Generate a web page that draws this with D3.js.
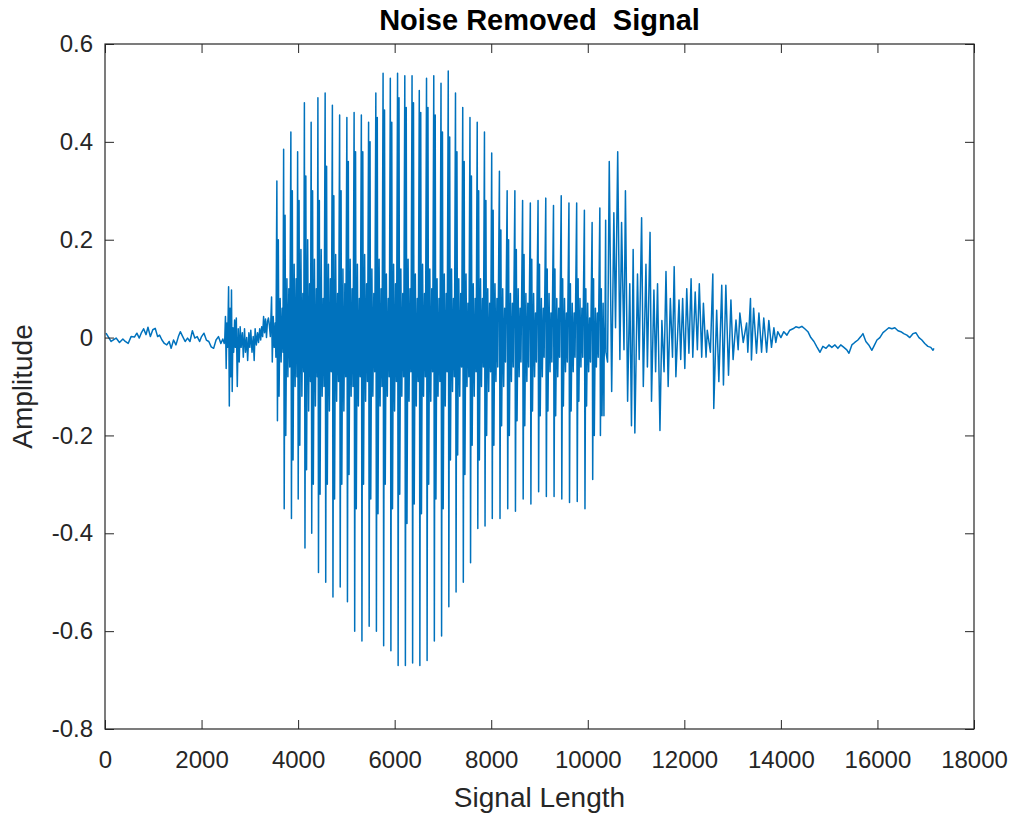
<!DOCTYPE html>
<html>
<head>
<meta charset="utf-8">
<script src="https://cdn.jsdelivr.net/npm/d3@7/dist/d3.min.js"></script>
<style>
  body { margin: 0; background: #fff; }
  text { font-family: "Liberation Sans", Arial, Helvetica, sans-serif; fill: #262626; }
</style>
</head>
<body>
<div id="chart"></div>
<script>
// tick values and labels
var xTicks = [0, 2000, 4000, 6000, 8000, 10000, 12000, 14000, 16000, 18000];
var yTicks = [0.6, 0.4, 0.2, 0, -0.2, -0.4, -0.6, -0.8];
var yTickLabels = ["0.6", "0.4", "0.2", "0", "-0.2", "-0.4", "-0.6", "-0.8"];

// quiet lead-in and the small burst before voicing (sample, amplitude)
var leadAt = [21, 125, 230, 300, 370, 420, 480, 540, 610, 660, 710, 750, 800, 850, 890, 940, 990, 1040,
  1090, 1130, 1180, 1230, 1280, 1330, 1370, 1420, 1470, 1520, 1560, 1610, 1660, 1710, 1760, 1810, 1860,
  1910, 1960, 2000, 2050, 2100, 2150, 2200, 2250, 2300, 2350, 2400, 2440, 2470,
  2480, 2495, 2510, 2525, 2540, 2560, 2575, 2590, 2605, 2620, 2635, 2650, 2665, 2685, 2700, 2720, 2740,
  2760, 2780, 2800, 2820, 2845, 2865, 2890, 2910, 2935, 2955, 2980, 3000, 3020, 3045, 3070, 3090, 3110,
  3135, 3160, 3180, 3205, 3225, 3245, 3265, 3285, 3305, 3325, 3345, 3365, 3385, 3405, 3425, 3450, 3465,
  3485, 3505, 3525, 3540];
var leadValue = [0.009, -0.008, -0.001, -0.01, -0.003, -0.008, -0.012, 0.002, 0.001, 0.009, -0.001, 0.009,
  0.018, 0.006, 0.021, 0.002, 0.016, 0.019, 0.002, 0.005, -0.005, -0.012, -0.015, -0.008, -0.022, -0.005,
  -0.015, 0.002, 0.012, 0.002, -0.008, -0.001, -0.008, 0.014, -0.001, 0.002, -0.008, 0.002, 0.009, -0.005,
  -0.008, -0.019, -0.022, -0.005, 0.002, -0.012, -0.003, -0.012,
  -0.006, 0.043, -0.063, 0.03, -0.02, 0.104, -0.14, 0.06, -0.08, 0.097, -0.11, 0.02, -0.03, 0.036, -0.02,
  0.04, -0.10, 0.018, -0.05, 0.022, -0.02, 0.01, -0.04, 0.018, -0.03, 0.0, -0.047, 0.01, -0.02, 0.015,
  -0.03, 0.002, -0.047, 0.018, -0.015, 0.01, -0.01, 0.018, -0.005, 0.022, 0.002, 0.043, 0.01, 0.038, 0.0,
  0.033, 0.04, 0.025, 0.002, 0.083, -0.05, 0.043, -0.02, 0.03, -0.04];

// voiced part: one entry per pitch pulse
var pulseAt = [3560, 3700, 3850, 3990, 4130, 4270, 4410, 4560, 4710,
  4860, 5010, 5160, 5310, 5460, 5610, 5760, 5910, 6060,
  6210, 6360, 6510, 6660, 6810, 6960, 7110, 7260, 7410,
  7560, 7710, 7860, 8010, 8170, 8330, 8490, 8650, 8810,
  8970, 9130, 9290, 9450, 9610, 9770, 9930, 10090, 10250];
var pulseHigh = [0.32, 0.385, 0.42, 0.38, 0.48, 0.44, 0.49, 0.50, 0.475,
  0.455, 0.45, 0.46, 0.455, 0.44, 0.50, 0.54, 0.53, 0.54,
  0.535, 0.535, 0.505, 0.53, 0.535, 0.52, 0.545, 0.50, 0.47,
  0.45, 0.44, 0.42, 0.377, 0.34, 0.30, 0.30, 0.28, 0.275,
  0.28, 0.285, 0.27, 0.29, 0.275, 0.275, 0.26, 0.235, 0.265];
var pulseLow = [-0.17, -0.35, -0.37, -0.33, -0.43, -0.40, -0.48, -0.50, -0.53,
  -0.51, -0.54, -0.60, -0.62, -0.59, -0.60, -0.63, -0.64, -0.67,
  -0.67, -0.665, -0.67, -0.66, -0.62, -0.61, -0.55, -0.52, -0.50,
  -0.46, -0.39, -0.385, -0.37, -0.37, -0.35, -0.355, -0.33, -0.34,
  -0.315, -0.325, -0.325, -0.33, -0.337, -0.335, -0.35, -0.29, -0.20];
var echoHigh = [0.20, 0.25, 0.30, 0.28, 0.33, 0.30, 0.28, 0.35, 0.29,
  0.30, 0.36, 0.38, 0.38, 0.40, 0.45, 0.465, 0.44, 0.49,
  0.47, 0.48, 0.46, 0.47, 0.455, 0.42, 0.41, 0.38, 0.36,
  0.33, 0.30, 0.28, 0.26, 0.22, 0.20, 0.18, 0.17, 0.16,
  0.15, 0.14, 0.14, 0.12, 0.11, 0.12, 0.10, 0.12, 0.10];
var echoLow = [-0.12, -0.20, -0.25, -0.22, -0.27, -0.30, -0.32, -0.30, -0.33,
  -0.30, -0.28, -0.35, -0.30, -0.33, -0.36, -0.30, -0.35, -0.32,
  -0.38, -0.34, -0.36, -0.30, -0.33, -0.35, -0.25, -0.24, -0.28,
  -0.22, -0.25, -0.20, -0.22, -0.18, -0.20, -0.17, -0.18, -0.15,
  -0.16, -0.15, -0.16, -0.14, -0.15, -0.13, -0.14, -0.20, -0.16];
var rippleHigh = [0.08, 0.12, 0.15, 0.18, 0.20, 0.16, 0.18, 0.15, 0.17,
  0.14, 0.16, 0.15, 0.17, 0.14, 0.16, 0.13, 0.15, 0.14,
  0.16, 0.13, 0.15, 0.14, 0.12, 0.13, 0.14, 0.12, 0.13,
  0.11, 0.12, 0.10, 0.11, 0.10, 0.09, 0.10, 0.09, 0.09,
  0.08, 0.09, 0.08, 0.08, 0.07, 0.08, 0.07, 0.06, 0.07];
var rippleLow = [-0.05, -0.08, -0.10, -0.12, -0.15, -0.14, -0.12, -0.15, -0.13,
  -0.15, -0.12, -0.14, -0.13, -0.12, -0.14, -0.12, -0.15, -0.12,
  -0.13, -0.14, -0.12, -0.13, -0.12, -0.14, -0.11, -0.12, -0.10,
  -0.12, -0.10, -0.11, -0.09, -0.10, -0.09, -0.08, -0.09, -0.08,
  -0.08, -0.07, -0.08, -0.07, -0.07, -0.06, -0.07, -0.06, -0.05];
var buzzHigh = [0.06, 0.10, 0.12, 0.09, 0.11, 0.10, 0.08, 0.12, 0.09,
  0.11, 0.10, 0.08, 0.11, 0.09, 0.10, 0.08, 0.11, 0.09,
  0.10, 0.08, 0.09, 0.10, 0.08, 0.09, 0.08, 0.09, 0.07,
  0.08, 0.08, 0.07, 0.08, 0.06, 0.07, 0.06, 0.07, 0.05,
  0.06, 0.05, 0.06, 0.05, 0.05, 0.06, 0.04, 0.05, 0.04];
var buzzLow = [-0.03, -0.06, -0.08, -0.07, -0.09, -0.08, -0.10, -0.07, -0.09,
  -0.08, -0.10, -0.08, -0.09, -0.07, -0.10, -0.08, -0.09, -0.08,
  -0.07, -0.09, -0.08, -0.07, -0.09, -0.07, -0.08, -0.06, -0.08,
  -0.07, -0.06, -0.07, -0.06, -0.05, -0.06, -0.05, -0.06, -0.05,
  -0.04, -0.05, -0.04, -0.05, -0.04, -0.04, -0.05, -0.04, -0.03];

// decaying end of the word and the quiet tail (sample, amplitude)
var tailAt = [10335, 10370, 10410, 10445, 10495, 10540, 10575, 10620, 10665, 10700, 10750, 10780, 10825,
  10870, 10905, 10940, 10975, 11030, 11065, 11115, 11150, 11205, 11235, 11290, 11320, 11370, 11405, 11445,
  11495, 11535, 11580, 11620, 11665, 11710, 11755, 11790, 11825, 11890, 11925, 11965, 12010, 12050, 12095,
  12140, 12175, 12225, 12270, 12310, 12360, 12395, 12450, 12475, 12540, 12590, 12610, 12670, 12715, 12775,
  12810, 12860, 12915, 12965, 13010, 13070, 13115, 13150, 13220, 13290, 13315, 13370, 13390, 13435, 13495,
  13545, 13600, 13645, 13705, 13750, 13805, 13855, 13895, 13935, 14000, 14060, 14125, 14185, 14250, 14310,
  14375, 14435, 14495, 14560, 14620, 14685, 14745, 14810, 14870, 14935, 14995, 15055, 15120, 15180, 15240,
  15305, 15365, 15410, 15470, 15530, 15595, 15655, 15700, 15760, 15820, 15885, 15925, 15990, 16050, 16115,
  16175, 16235, 16300, 16360, 16425, 16485, 16545, 16610, 16670, 16735, 16795, 16860, 16920, 16980, 17045,
  17105, 17150, 17170];
var tailValue = [-0.16, 0.24, -0.05, 0.36, -0.11, 0.255, 0.02, 0.38, -0.045, 0.235, -0.025, 0.30, -0.13,
  0.11, -0.18, 0.18, -0.195, 0.13, -0.045, 0.245, -0.10, 0.15, -0.06, 0.215, -0.13, 0.097, -0.07, 0.11,
  -0.19, 0.035, -0.07, 0.135, -0.10, 0.08, -0.04, 0.145, -0.08, 0.077, -0.045, 0.08, -0.063, 0.10, -0.032,
  0.12, -0.04, 0.093, -0.025, 0.11, -0.04, 0.07, -0.04, 0.015, -0.03, 0.13, -0.145, 0.056, -0.09, 0.107,
  -0.097, 0.107, -0.077, 0.077, -0.045, 0.036, -0.025, 0.05, -0.01, 0.03, -0.03, 0.08, -0.046, 0.06, -0.032,
  0.05, -0.03, 0.04, -0.03, 0.035, -0.02, 0.02, -0.01, 0.012, 0.0, 0.012, 0.005, 0.015, 0.018, 0.022,
  0.02, 0.023, 0.018, 0.012, 0.0, -0.008, -0.019, -0.03, -0.018, -0.022, -0.015, -0.02, -0.015, -0.022, -0.015,
  -0.02, -0.025, -0.032, -0.015, -0.01, -0.005, 0.002, 0.008, -0.008, -0.015, -0.026, -0.018, -0.005, 0.0, 0.01,
  0.015, 0.02, 0.018, 0.02, 0.014, 0.012, 0.008, 0.005, 0.0, 0.008, 0.01, 0.0, -0.005, -0.012, -0.018,
  -0.02, -0.026, -0.022];

var svgWidth = 1017;
var svgHeight = 818;
var plot = { left: 105, right: 974, top: 44, bottom: 729 };

var svg = d3.select("#chart")
  .append("svg")
  .attr("width", svgWidth)
  .attr("height", svgHeight);

var x = d3.scaleLinear().domain([0, 18000]).range([plot.left, plot.right]);
var y = d3.scaleLinear().domain([-0.8, 0.6]).range([plot.bottom, plot.top]);

// assemble the waveform from the tables
var wave = [];
leadAt.forEach(function(s, i) { wave.push([s, leadValue[i]]); });
pulseAt.forEach(function(s, i) {
  wave.push([s, pulseHigh[i]]);
  wave.push([s + 12, pulseLow[i]]);
  wave.push([s + 30, echoHigh[i]]);
  wave.push([s + 45, echoLow[i]]);
  wave.push([s + 68, rippleHigh[i]]);
  wave.push([s + 88, rippleLow[i]]);
  wave.push([s + 108, buzzHigh[i]]);
  wave.push([s + 126, buzzLow[i]]);
});
tailAt.forEach(function(s, i) { wave.push([s, tailValue[i]]); });
wave.sort(function(a, b) { return a[0] - b[0]; });

var line = d3.line()
  .x(function(d) { return x(d[0]); })
  .y(function(d) { return y(d[1]); });

svg.append("path")
  .datum(wave)
  .attr("fill", "none")
  .attr("stroke", "#0072BD")
  .attr("stroke-width", 1.5)
  .attr("stroke-linejoin", "round")
  .attr("d", line);

// axes, ticks pointing inward on all four sides
var axisColor = "#262626";
function styleAxis(g) {
  g.select(".domain").remove();
  g.selectAll(".tick line").attr("stroke", axisColor);
  g.selectAll(".tick text").style("font-size", "24px").attr("fill", axisColor);
}

svg.append("g")
  .attr("transform", "translate(0," + plot.bottom + ")")
  .call(d3.axisBottom(x).tickValues(xTicks).tickSizeInner(-9).tickSizeOuter(0).tickPadding(22)
    .tickFormat(function(d) { return String(d); }))
  .call(styleAxis);

svg.append("g")
  .attr("transform", "translate(0," + plot.top + ")")
  .call(d3.axisTop(x).tickValues(xTicks).tickSizeInner(-9).tickSizeOuter(0).tickFormat(""))
  .call(styleAxis);

svg.append("g")
  .attr("transform", "translate(" + plot.left + ",0)")
  .call(d3.axisLeft(y).tickValues(yTicks).tickSizeInner(-9).tickSizeOuter(0).tickPadding(12)
    .tickFormat(function(d, i) { return yTickLabels[i]; }))
  .call(styleAxis);

svg.append("g")
  .attr("transform", "translate(" + plot.right + ",0)")
  .call(d3.axisRight(y).tickValues(yTicks).tickSizeInner(-9).tickSizeOuter(0).tickFormat(""))
  .call(styleAxis);

svg.append("rect")
  .attr("x", plot.left)
  .attr("y", plot.top)
  .attr("width", plot.right - plot.left)
  .attr("height", plot.bottom - plot.top)
  .attr("fill", "none")
  .attr("stroke", axisColor)
  .attr("stroke-width", 1.2);

// title and axis labels
svg.append("text")
  .attr("x", (plot.left + plot.right) / 2)
  .attr("y", 30)
  .attr("text-anchor", "middle")
  .style("font-size", "29px")
  .style("font-weight", "bold")
  .style("fill", "#000")
  .style("white-space", "pre")
  .text("Noise Removed  Signal");

svg.append("text")
  .attr("x", (plot.left + plot.right) / 2)
  .attr("y", 807)
  .attr("text-anchor", "middle")
  .style("font-size", "28px")
  .text("Signal Length");

svg.append("text")
  .attr("transform", "translate(32," + ((plot.top + plot.bottom) / 2) + ") rotate(-90)")
  .attr("text-anchor", "middle")
  .style("font-size", "28px")
  .text("Amplitude");
</script>
</body>
</html>
